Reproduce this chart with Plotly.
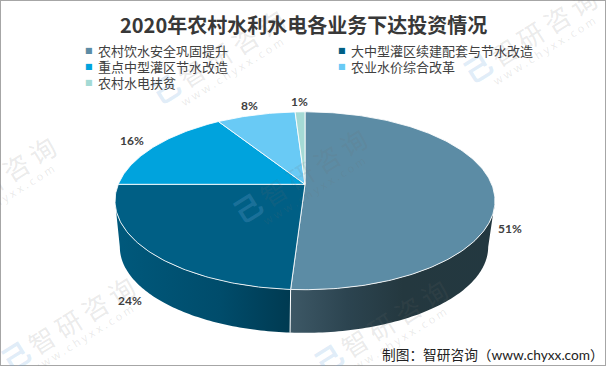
import math
import numpy as np
import plotly.graph_objects as go

categories = ["农村饮水安全巩固提升", "大中型灌区续建配套与节水改造", "重点中型灌区节水改造", "农业水价综合改革", "农村水电扶贫"]
values = [51, 24, 16, 8, 1]
colors = ["#5c8ca5", "#005f85", "#00a3dd", "#69caf5", "#a4dad5"]
side_scales = [
    [[0, "#3d5866"], [0.28, "#2c4450"], [0.55, "#24383f"], [1, "#233840"]],
    [[0, "#00597c"], [0.6, "#004c6b"], [1, "#003a51"]],
]
title = "2020年农村水利水电各业务下达投资情况"
source = "制图：智研咨询（www.chyxx.com）"
W, H = 606, 366

# perspective view of the disc
CX, CY, AX, BY, K = 305, 184.3, 186.7, 85.9, 0.185
CX2, CY2, AX2, BY2 = 304, 231, 181, 83


def top(t, r=1.0):
    X, Y = r * np.sin(t), r * np.cos(t)
    w = 1 + K * Y
    return CX + AX * X / w, CY - BY * Y / w


def base(t, r=1.0, cy=CY2):
    X, Y = r * np.sin(t), r * np.cos(t)
    w = 1 + K * Y
    return CX2 + AX2 * X / w, cy - BY2 * Y / w


fig = go.Figure()
total = sum(values)
edges = np.cumsum([0] + values) / total * 2 * math.pi
tang = math.pi / 2 + math.asin(K)

# side wall
for i, (a, b) in enumerate([(tang, edges[1]), (edges[1], 2 * math.pi - tang)]):
    t = np.linspace(a, b, 80)
    x1, y1 = top(t)
    x2, y2 = base(t[::-1])
    xs = np.concatenate([x1, x2, x1[:1]])
    ys = np.concatenate([y1, y2, y1[:1]])
    fig.add_trace(go.Scatter(
        x=xs, y=ys, mode="none", fill="toself", hoverinfo="skip", showlegend=False,
        fillgradient=dict(type="horizontal", colorscale=side_scales[i],
                          start=float(xs.min()), stop=float(xs.max())),
    ))

# white seam on the wall front
sx1, sy1 = top(np.array([edges[1]]))
sx2, sy2 = base(np.array([edges[1]]))
fig.add_trace(go.Scatter(x=[sx1[0], sx2[0]], y=[sy1[0], sy2[0]], mode="lines",
                         line=dict(color="white", width=1), hoverinfo="skip", showlegend=False))

# top slices
for i, v in enumerate(values):
    t = np.linspace(edges[i], edges[i + 1], max(8, int(v * 4)))
    x, y = top(t)
    xs = np.concatenate([[CX], x, [CX]])
    ys = np.concatenate([[CY], y, [CY]])
    fig.add_trace(go.Scatter(x=xs, y=ys, mode="lines", fill="toself", fillcolor=colors[i],
                             line=dict(color="rgba(255,255,255,0.85)", width=1),
                             hoverinfo="skip", showlegend=False))

annotations = []
wm_grey = "rgba(110,110,110,0.15)"
wm_blue = "rgba(120,175,225,0.24)"
for lx, ly in [(15, 355), (247, 207), (477, 67), (165, 88), (-64, 215), (328, 358)]:
    annotations += [
        dict(x=lx, y=ly, text="<b>己</b>", font=dict(size=28, color=wm_blue, family="Noto Sans CJK SC"), textangle=-32),
        dict(x=lx + 66, y=ly - 41, text="智\u2009研\u2009咨\u2009询", font=dict(size=26, color=wm_grey, family="Noto Sans CJK SC"), textangle=-32),
        dict(x=lx + 67, y=ly - 17, text="w w w . c h y x x . c o m", font=dict(size=11, color=wm_grey, family="Noto Sans"), textangle=-32),
    ]

mids = (edges[:-1] + edges[1:]) / 2
for i, v in enumerate(values):
    if math.cos(mids[i]) <= 0:
        lx, ly = base(np.array([mids[i]]), 1.13, 226)
    else:
        lx, ly = top(np.array([mids[i]]), 1.17)
    annotations.append(dict(x=float(lx[0]), y=float(ly[0]), text=f"<b>{v}%</b>",
                            font=dict(size=12, color="#404040", family="Lato")))

# legend: two columns, rows 16 px apart
for i, (c, n) in enumerate(zip(colors, categories)):
    col, row = i % 2, i // 2
    x0, y0 = 96 + 253 * col, 50 + 16 * row
    annotations.append(dict(x=x0 - 7.5, y=y0, text="■", font=dict(size=8, color=c, family="DejaVu Sans")))
    annotations.append(dict(x=x0, y=y0, text=n, xanchor="left",
                            font=dict(size=13, color="#404040", family="Noto Sans CJK SC")))

annotations += [
    dict(x=303, y=24, text=f"<b>{title}</b>", font=dict(size=20, color="#383838", family="Noto Sans CJK SC")),
    dict(x=606, y=354, text=source, xanchor="right", font=dict(size=13.7, color="#222222", family="Lato, Noto Sans CJK SC")),
]
for a in annotations:
    a.update(xref="x", yref="y", showarrow=False)

fig.update_layout(
    width=W, height=H, margin=dict(l=0, r=0, t=0, b=0), paper_bgcolor="white", plot_bgcolor="white",
    showlegend=False,
    xaxis=dict(range=[0, W], visible=False, fixedrange=True),
    yaxis=dict(range=[H, 0], visible=False, fixedrange=True),
    annotations=annotations,
    shapes=[dict(type="rect", xref="x", yref="y", x0=0, y0=0, x1=W, y1=H,
                 line=dict(color="#a6a6a6", width=2))],
)
fig.write_html("out.html", config={"displayModeBar": False},
               post_script="document.body.style.margin='0';document.documentElement.style.overflow='hidden';")
